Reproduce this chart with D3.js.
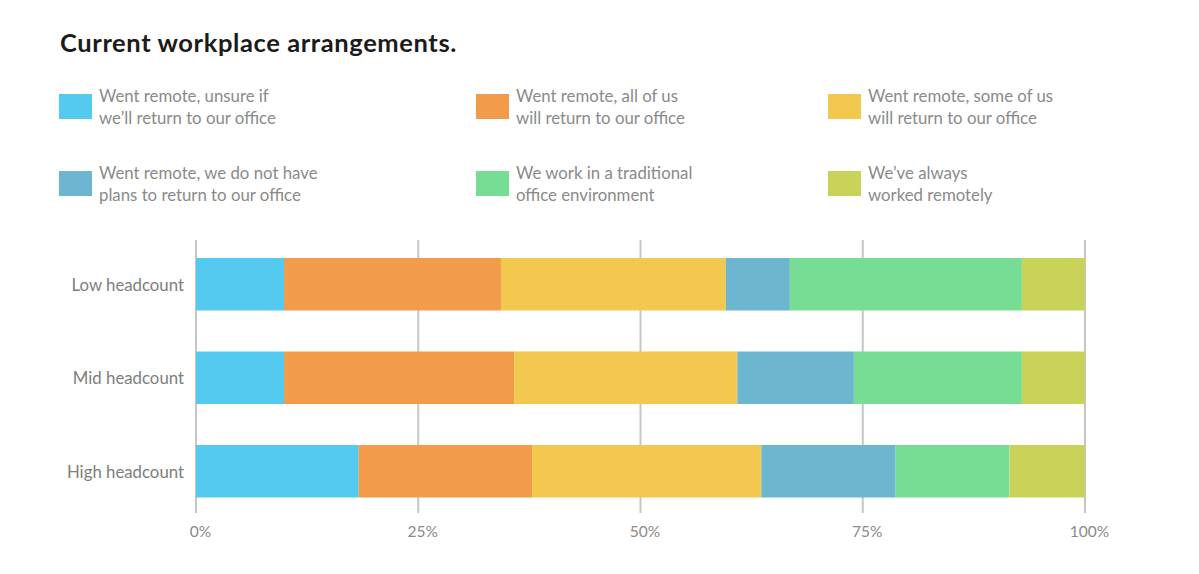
<!DOCTYPE html>
<html><head><meta charset="utf-8">
<script src="https://cdn.jsdelivr.net/npm/d3@7"></script>
<style>
html,body{margin:0;padding:0;background:#fff;}
svg{display:block;}
</style></head>
<body><svg id="chart" width="1199" height="574"></svg>
<script>
const categories = ["Low headcount", "Mid headcount", "High headcount"];
const seriesNames = [
  "Went remote, unsure if\nwe’ll return to our office",
  "Went remote, all of us\nwill return to our office",
  "Went remote, some of us\nwill return to our office",
  "Went remote, we do not have\nplans to return to our office",
  "We work in a traditional\noffice environment",
  "We’ve always\nworked remotely"
];
const unsureValues     = [9.9, 9.9, 18.3];
const allReturnValues  = [24.4, 25.9, 19.5];
const someReturnValues = [25.3, 25.1, 25.8];
const noPlansValues    = [7.2, 13.1, 15.1];
const traditionalValues= [26.1, 18.9, 12.8];
const alwaysValues     = [7.1, 7.1, 8.5];
const tickValues = [0, 25, 50, 75, 100];
const tickLabels = ["0%", "25%", "50%", "75%", "100%"];
const colors = ["#54caf0", "#f29b4b", "#f2c84e", "#6db6d0", "#77dc94", "#c9d35a"];

const allSeries = [unsureValues, allReturnValues, someReturnValues, noPlansValues, traditionalValues, alwaysValues];
const rows = categories.map((c, i) => {
  const r = {cat: c};
  allSeries.forEach((s, k) => r["s" + k] = s[i]);
  return r;
});
const keys = allSeries.map((s, k) => "s" + k);
const stacked = d3.stack().keys(keys)(rows);

const svg = d3.select("#chart");
const font = "Lato, 'Open Sans', sans-serif";

// Title
svg.append("text").attr("x", 60).attr("y", 52)
  .attr("font-family", font).attr("font-weight", 700).attr("font-size", 25.5)
  .attr("letter-spacing", 0.6)
  .attr("fill", "#1b1b1b").text("Current workplace arrangements.");

// Legend
const legX = [59, 476, 828];
const legY = [94, 171];
seriesNames.forEach((name, i) => {
  const col = i % 3, row = Math.floor(i / 3);
  const g = svg.append("g").attr("transform", `translate(${legX[col]},${legY[row]})`);
  g.append("rect").attr("width", 33).attr("height", 25).attr("fill", colors[i]);
  const t = g.append("text").attr("x", 40).attr("y", 8)
    .attr("font-family", font).attr("font-size", 16.8).attr("fill", "#8a8a8a");
  name.split("\n").forEach((ln, j) => {
    t.append("tspan").attr("x", 40).attr("dy", j === 0 ? 0 : 22).text(ln);
  });
});

// Scales
const x = d3.scaleLinear().domain([0, 100]).range([196, 1085]);
const y = d3.scaleBand().domain(categories).range([239.3, 516.2])
  .paddingInner(0.4385).paddingOuter(0.2);

// Grid
svg.append("g").selectAll("line").data(tickValues).join("line")
  .attr("x1", d => x(d)).attr("x2", d => x(d))
  .attr("y1", 240).attr("y2", 513)
  .attr("stroke", "#c6c6c6").attr("stroke-width", 2);

// Bars
svg.append("g").selectAll("g").data(stacked).join("g")
  .attr("fill", (d, i) => colors[i])
  .selectAll("rect").data(d => d).join("rect")
  .attr("x", d => x(d[0])).attr("width", d => x(d[1]) - x(d[0]))
  .attr("y", d => y(d.data.cat)).attr("height", y.bandwidth());

// Y labels
const yAxis = d3.axisLeft(y).tickSize(0).tickPadding(0);
const ya = svg.append("g").attr("transform", "translate(184,1)").call(yAxis);
ya.select(".domain").remove();
ya.selectAll("text").attr("font-family", font).attr("font-size", 16.8).attr("fill", "#7e7e7e");

// X labels
const xAxis = d3.axisBottom(x).tickValues(tickValues).tickFormat((d, i) => tickLabels[i]).tickSize(0).tickPadding(0);
const xa = svg.append("g").attr("transform", "translate(4,526)").call(xAxis);
xa.select(".domain").remove();
xa.selectAll("text").attr("font-family", font).attr("font-size", 15.5).attr("fill", "#8a8a8a");
</script></body></html>
